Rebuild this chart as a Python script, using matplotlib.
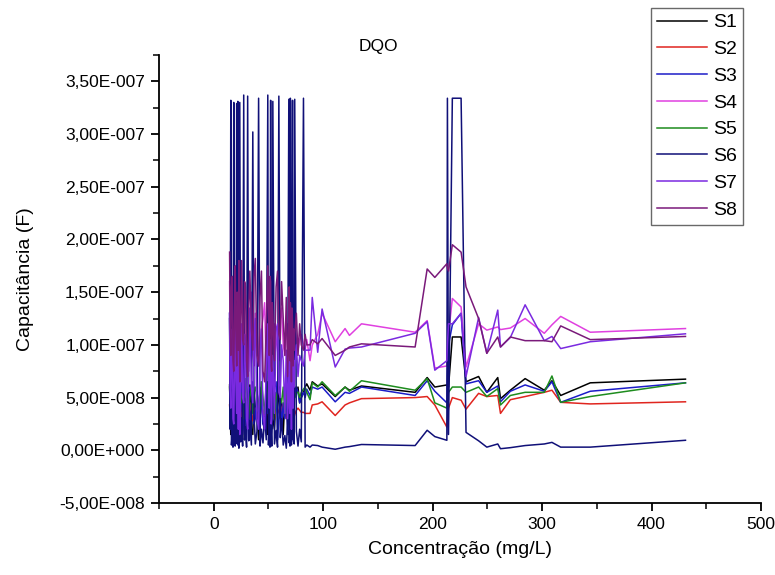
import numpy as np
import matplotlib.pyplot as plt
from matplotlib.ticker import FuncFormatter, MultipleLocator

plt.rcParams['font.family'] = ['Liberation Sans', 'DejaVu Sans']

# concentration (mg/L), same sampling for every series
conc = [14.5, 15.0, 15.6, 16.2, 17.0, 17.6, 18.3, 19.0, 19.6, 20.3,
        21.0, 21.5, 22.0, 22.5, 23.0, 23.8, 24.6, 25.5, 26.4, 27.4,
        28.2, 29.0, 30.0, 31.0, 32.0, 33.0, 34.4, 35.7, 36.8, 38.0,
        39.5, 41.0, 42.3, 43.6, 45.0, 46.5, 48.0, 49.4, 50.0, 50.7,
        51.4, 52.0, 52.5, 53.0, 53.5, 54.0, 55.5, 57.0, 58.3, 59.5,
        60.8, 62.0, 63.5, 65.0, 66.3, 67.5, 68.6, 69.0, 69.3, 69.7,
        70.0, 70.5, 71.0, 71.5, 72.0, 72.5, 73.0, 73.5, 74.0, 75.5,
        77.0, 78.5, 80.0, 82.0, 83.5, 85.0,
        88, 90, 95, 99, 111, 120, 124, 135, 184, 195, 202, 213, 213.5, 214.5,
        218, 226, 230.5, 242, 249.5, 259.5, 262, 271, 284.5, 302, 309, 317, 344, 431]

# capacitance, in units of 1e-8 F
s1 = [6.2, 3.5, 1.5, 4.0, 5.5, 2.0, 0.8, 3.5, 6.0, 4.0,
      2.0, 5.0, 4.5, 1.0, 0.5, 5.8, 3.0, 1.5, 6.5, 2.5,
      1.0, 4.5, 5.0, 2.5, 3.5, 6.2, 2.0, 1.5, 5.5, 4.0,
      3.5, 1.0, 4.5, 6.0, 2.5, 3.0, 6.5, 1.5, 2.0, 5.5,
      4.0, 1.0, 3.5, 6.0, 5.0, 3.0, 2.0, 5.5, 4.0, 6.0,
      3.0, 4.5, 1.5, 5.0, 6.0, 2.5, 1.5, 4.0, 5.0, 3.5,
      2.5, 5.5, 6.5, 1.0, 3.0, 5.5, 4.5, 4.0, 6.0, 5.5,
      6.0, 4.5, 5.0, 5.5, 6.0, 6.3,
      5.7, 6.5, 6.1, 6.3, 5.1, 6.0, 5.7, 6.1, 5.5, 6.9, 6.0, 6.2, 6.1, 6.0,
      10.75, 10.75, 6.5, 7.0, 5.5, 6.9, 4.9, 5.7, 6.8, 5.7, 6.6, 5.2, 6.4, 6.75]
s2 = [4.3, 3.5, 2.5, 3.2, 3.8, 2.8, 2.0, 3.5, 4.5, 3.8,
      3.0, 3.6, 3.5, 2.5, 2.2, 4.0, 3.4, 3.2, 4.8, 3.0,
      2.5, 3.5, 3.9, 3.0, 3.0, 4.5, 3.6, 2.8, 3.5, 4.0,
      3.5, 3.0, 3.2, 4.2, 3.8, 3.0, 3.6, 4.6, 3.5, 2.8,
      3.2, 3.8, 3.0, 3.6, 4.2, 3.5, 3.0, 3.8, 4.0, 3.6,
      3.2, 4.0, 4.4, 3.6, 3.0, 4.0, 2.8, 3.5, 3.6, 3.2,
      3.0, 3.6, 4.2, 3.0, 2.6, 3.5, 3.8, 3.2, 3.4, 3.8,
      4.0, 3.8, 3.6, 3.6, 3.5, 3.5,
      3.5, 4.3, 4.4, 4.6, 3.3, 4.3, 4.5, 4.9, 5.0, 5.1, 4.3, 2.2, 3.0, 4.0,
      5.0, 4.75, 3.9, 5.4, 5.1, 5.2, 3.5, 4.8, 5.1, 5.5, 5.7, 4.55, 4.4, 4.6]
s3 = [13.0, 5.0, 2.0, 7.5, 6.0, 1.0, 3.0, 5.0, 1.5, 3.0,
      6.5, 2.5, 0.5, 4.5, 5.5, 2.0, 10.5, 6.0, 1.5, 3.5,
      5.5, 3.5, 1.0, 5.0, 6.0, 1.0, 4.0, 6.5, 2.5, 3.0,
      5.5, 4.0, 1.5, 6.0, 2.5, 2.0, 5.0, 3.5, 6.5, 4.0,
      1.5, 6.0, 3.5, 2.0, 5.0, 3.5, 6.0, 6.5, 1.0, 3.0,
      5.5, 2.0, 4.5, 3.0, 6.0, 1.5, 4.5, 2.0, 5.0, 1.5,
      6.0, 3.0, 0.8, 5.0, 3.0, 5.5, 2.0, 6.0, 5.0, 6.0,
      5.5, 4.5, 5.0, 5.5, 5.0, 5.8,
      5.2, 6.0, 5.8, 6.0, 4.6, 5.5, 5.4, 6.0, 5.2, 6.6, 5.6, 4.5, 7.0, 10.0,
      11.9, 13.0, 6.3, 6.6, 5.5, 6.1, 4.6, 5.6, 6.2, 5.6, 6.5, 4.55, 5.6, 6.4]
s4 = [16.0, 11.0, 8.0, 12.5, 14.5, 7.0, 6.0, 10.0, 12.0, 13.0,
      9.5, 12.0, 15.0, 8.0, 7.0, 13.5, 10.5, 6.5, 12.0, 16.5,
      8.5, 9.0, 12.5, 14.0, 7.5, 11.0, 15.0, 9.0, 8.0, 13.0,
      11.5, 8.0, 9.5, 11.5, 12.5, 14.0, 7.5, 10.0, 12.5, 9.0,
      8.5, 14.5, 13.0, 8.0, 9.5, 11.5, 12.0, 10.5, 9.5, 8.5,
      12.5, 13.5, 10.0, 9.0, 11.0, 12.0, 8.5, 10.5, 11.5, 10.0,
      9.0, 11.0, 10.5, 8.5, 10.5, 11.0, 9.5, 10.0, 11.5, 10.5,
      9.5, 10.5, 11.0, 10.0, 9.5, 10.5,
      8.5, 10.0, 11.0, 13.0, 10.3, 11.55, 10.9, 12.0, 11.2, 12.3, 7.8, 8.0, 9.5, 11.0,
      14.4, 13.6, 7.9, 12.0, 11.4, 11.7, 11.45, 11.6, 12.5, 11.1, 11.9, 12.7, 11.2, 11.55]
s5 = [6.0, 4.5, 3.0, 5.0, 5.5, 3.5, 2.0, 4.5, 6.5, 5.0,
      4.0, 6.0, 5.0, 3.0, 2.5, 6.0, 5.0, 4.5, 5.5, 3.0,
      4.5, 6.8, 5.5, 4.0, 3.0, 5.0, 6.0, 3.5, 4.5, 6.0,
      5.5, 4.5, 3.5, 6.5, 5.0, 3.5, 5.5, 6.5, 4.5, 3.5,
      5.5, 5.0, 4.0, 5.5, 6.5, 4.0, 3.0, 5.0, 5.5, 6.0,
      5.0, 4.5, 6.0, 3.5, 5.0, 5.5, 3.5, 5.0, 5.5, 4.0,
      4.5, 6.0, 6.0, 3.0, 4.5, 5.0, 4.5, 5.5, 5.0, 5.5,
      5.5, 5.0, 5.5, 5.8, 6.0, 5.5,
      4.8, 6.4, 6.0, 6.5, 5.2, 6.0, 5.6, 6.6, 5.7, 6.8, 4.5, 4.0, 4.8, 5.5,
      6.0, 6.0, 5.5, 6.0, 5.1, 5.85, 4.3, 5.2, 5.5, 5.5, 7.05, 4.55, 5.1, 6.4]
s6 = [12.5, 2.0, 33.2, 0.5, 1.8, 0.3, 33.0, 1.2, 0.4, 2.5,
      32.9, 0.6, 33.1, 1.5, 0.2, 33.0, 0.8, 3.0, 0.4, 33.7,
      1.0, 2.2, 0.3, 33.6, 0.9, 2.8, 0.5, 30.2, 3.5, 0.6,
      1.8, 33.4, 0.4, 2.0, 0.7, 3.2, 1.0, 33.7, 0.5, 2.4,
      0.3, 33.2, 1.6, 0.4, 2.8, 33.1, 0.6, 1.9, 0.3, 33.6,
      1.2, 3.0, 0.5, 1.4, 0.2, 2.6, 33.3, 0.7, 1.5, 0.4,
      33.4, 2.2, 0.5, 20.9, 33.2, 1.0, 3.4, 0.6, 33.3, 1.8,
      0.4, 2.0, 0.8, 33.4, 0.3, 0.5,
      0.3, 0.5, 0.45, 0.3, 0.1, 0.3, 0.35, 0.55, 0.45, 1.9, 1.3, 0.95, 33.4, 1.5,
      33.4, 33.4, 1.7, 0.9, 0.3, 0.6, 0.15, 0.25, 0.45, 0.6, 0.75, 0.3, 0.3, 0.95]
s7 = [13.0, 6.0, 4.0, 9.5, 11.5, 3.0, 2.5, 8.0, 14.0, 6.5,
      3.5, 10.0, 9.0, 2.0, 12.5, 1.5, 7.0, 12.0, 5.0, 4.5,
      11.0, 10.0, 3.0, 2.0, 8.5, 13.5, 6.0, 4.5, 11.0, 12.5,
      3.0, 2.0, 9.5, 11.5, 3.5, 2.0, 8.0, 12.0, 7.5, 4.0,
      10.5, 10.0, 2.5, 3.0, 9.0, 8.5, 3.5, 11.5, 12.0, 5.5,
      5.0, 10.0, 8.5, 3.5, 9.5, 3.0, 7.5, 10.0, 4.0, 3.5,
      9.0, 8.0, 2.0, 8.5, 7.0, 4.0, 8.5, 6.0, 8.0, 10.0,
      7.0, 9.0, 8.5, 8.0, 9.5, 9.5,
      9.5, 14.5, 9.3, 13.4, 7.9, 9.6, 9.7, 9.8, 11.1, 12.2, 7.6, 8.5, 10.0, 12.0,
      12.0, 13.0, 7.0, 12.6, 9.2, 13.3, 9.8, 10.7, 13.8, 10.4, 10.8, 9.65, 10.3, 11.05]
s8 = [18.8, 12.0, 9.0, 15.5, 16.5, 8.5, 7.5, 13.0, 17.5, 11.0,
      8.0, 15.0, 14.0, 9.5, 18.0, 6.5, 12.5, 18.0, 10.5, 10.0,
      16.0, 15.5, 8.5, 7.0, 13.5, 17.0, 11.5, 9.5, 16.5, 18.2,
      9.0, 8.0, 14.5, 17.0, 7.5, 6.5, 12.0, 17.5, 13.5, 9.0,
      16.5, 16.0, 8.0, 7.5, 14.0, 13.0, 8.5, 15.5, 17.0, 11.0,
      10.5, 16.0, 12.5, 9.0, 14.5, 7.0, 12.0, 15.5, 9.0, 8.5,
      14.0, 11.0, 6.5, 13.5, 12.0, 8.0, 11.5, 9.5, 11.0, 13.0,
      9.0, 12.0, 10.0, 9.5, 11.0, 10.0,
      10.0, 10.5, 10.1, 10.6, 9.0, 9.5, 9.8, 10.1, 9.8, 17.2, 16.4, 17.7, 17.3, 17.0,
      19.5, 18.8, 15.5, 12.5, 9.2, 10.75, 9.8, 10.75, 10.4, 10.4, 10.3, 11.8, 10.5, 10.8]

names = ['S1', 'S2', 'S3', 'S4', 'S5', 'S6', 'S7', 'S8']
series = [s1, s2, s3, s4, s5, s6, s7, s8]
colors = ['#000000', '#e0251f', '#1c1cc8', '#e040e0', '#1e8c1e', '#101078', '#7a2ae0', '#7a1a7a']

def sci_comma(v, pos):
	if abs(v) < 1e-20:
		return '0,00E+000'
	exp = int(np.floor(np.log10(abs(v))))
	mant = v / 10**exp
	sign = '-' if exp < 0 else '+'
	return ('%.2f' % mant).replace('.', ',') + 'E%s%03d' % (sign, abs(exp))

fig = plt.figure(figsize=(7.75, 5.75), dpi=100)
ax = fig.add_axes([159/775, 1-503/575, (761-159)/775, (503-55)/575])

x = np.array(conc)
for name, ys, c in zip(names, series, colors):
	ax.plot(x, np.array(ys) * 1e-8, color=c, lw=1.1, label=name)

ax.set_xlim(-50, 500)
ax.set_ylim(-5e-8, 3.75e-7)
ax.xaxis.set_major_locator(MultipleLocator(100))
ax.xaxis.set_minor_locator(MultipleLocator(50))
ax.yaxis.set_major_locator(MultipleLocator(5e-8))
ax.yaxis.set_minor_locator(MultipleLocator(2.5e-8))
ax.yaxis.set_major_formatter(FuncFormatter(sci_comma))
ax.spines['top'].set_visible(False)
ax.spines['right'].set_visible(False)
for s in ['left', 'bottom']:
	ax.spines[s].set_linewidth(1.3)
ax.tick_params(which='major', direction='out', length=6, width=1.3, labelsize=12.5, pad=4)
ax.tick_params(which='minor', direction='out', length=4, width=1.1)

ax.set_xlabel('Concentração (mg/L)', fontsize=14)
ax.set_ylabel('Capacitância (F)', fontsize=14)
ax.xaxis.set_label_coords(0.5, -(550-503)/448)
ax.yaxis.set_label_coords(-(159-25)/602, 0.5)
ax.xaxis.label.set_va('center')
ax.yaxis.label.set_va('center')
fig.text(378/775, 1-47/575, 'DQO', ha='center', va='center', fontsize=12.5)

leg = fig.legend(loc='upper left', bbox_to_anchor=(651/775, 1-8/575), fontsize=14,
	fancybox=False, frameon=True, edgecolor='#444444', handlelength=2.6,
	handletextpad=0.3, labelspacing=0.47, borderpad=0.3, borderaxespad=0)
leg.get_frame().set_linewidth(1.0)

fig.savefig('out.png', dpi=100)
